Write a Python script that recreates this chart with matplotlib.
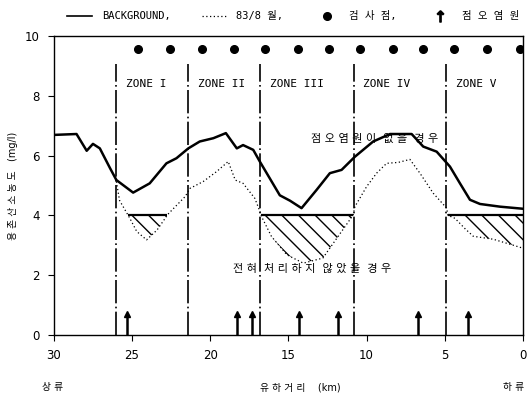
import matplotlib
matplotlib.use("Agg")

import numpy as np
import matplotlib.pyplot as plt
from matplotlib.lines import Line2D

plt.rcParams['font.family'] = ['DejaVu Sans', 'Noto Sans CJK KR']

# -----------------------------
# DATA
# -----------------------------
bg_km = [30, 28.55, 27.9, 27.5, 27.06, 26.4, 26.0, 24.93, 23.87, 22.8, 22.16,
         21.4, 20.67, 19.8, 19.0, 18.3, 17.9, 17.25, 16.83, 15.55, 14.9, 14.16,
         13.2, 12.35, 11.6, 10.75, 9.58, 8.5, 7.12, 6.38, 5.52, 4.67, 4.03,
         3.39, 2.75, 1.47, 0]
bg_do = [6.69, 6.72, 6.16, 6.39, 6.24, 5.57, 5.18, 4.76, 5.07, 5.74, 5.91,
         6.24, 6.47, 6.58, 6.75, 6.24, 6.35, 6.19, 5.80, 4.67, 4.49, 4.24,
         4.85, 5.41, 5.52, 5.96, 6.47, 6.72, 6.72, 6.30, 6.13, 5.63, 5.07,
         4.52, 4.38, 4.29, 4.22]

aug_km = [26.0, 25.8, 25.25, 25.14, 24.7, 24.07, 23.4, 22.7, 21.6, 21.3, 20.45,
          19.6, 18.85, 18.4, 17.9, 17.15, 16.8, 16.72, 16.08, 15.1, 14.05, 12.8,
          10.86, 10.75, 10.0, 9.36, 8.72, 7.98, 7.23, 6.59, 5.74, 4.88, 4.8,
          4.35, 3.7, 3.18, 1.9, 0.62, 0]
aug_do = [5.13, 4.5, 4.0, 3.9, 3.46, 3.18, 3.51, 4.04, 4.63, 4.9, 5.13,
          5.46, 5.80, 5.18, 5.07, 4.57, 4.1, 3.96, 3.29, 2.68, 2.40, 2.57,
          4.01, 4.29, 4.96, 5.41, 5.74, 5.77, 5.87, 5.41, 4.74, 4.24, 4.0,
          3.9, 3.55, 3.3, 3.2, 3.0, 2.9]

sample_km = [24.6, 22.6, 20.5, 18.5, 16.5, 14.4, 12.4, 10.4, 8.3, 6.4, 4.4, 2.3, 0.2]
source_km = [25.3, 18.3, 17.3, 14.3, 11.8, 6.7, 3.5]

zone_bounds = [26.0, 21.4, 16.8, 10.8, 4.9]
zone_names = ["ZONE I", "ZONE II", "ZONE III", "ZONE IV", "ZONE V"]

do_limit = 4.0

# -----------------------------
# FIGURE
# -----------------------------
fig = plt.figure(figsize=(5.28, 4.04), dpi=100)
ax = fig.add_axes([0.102, 0.171, 0.8885, 0.74])

ax.plot(bg_km, bg_do, color="black", lw=1.8)
ax.plot(aug_km, aug_do, color="black", lw=0.9, linestyle=(0, (1, 2)))

# hatched deficit below the 4 mg/l line
km = np.array(aug_km)
do = np.array(aug_do)
ax.fill_between(km, do, do_limit, where=do < do_limit, interpolate=True,
                facecolor="none", edgecolor="black", hatch="\\\\", lw=0)

# horizontal limit segments where the dotted curve drops below 4
diff = do - do_limit
cross = []
for i in range(len(diff) - 1):
    if diff[i] >= 0 > diff[i + 1] or diff[i] < 0 <= diff[i + 1]:
        t = diff[i] / (diff[i] - diff[i + 1])
        cross.append(km[i] + t * (km[i + 1] - km[i]))
if diff[-1] < 0:
    cross.append(km[-1])
for a, b in zip(cross[0::2], cross[1::2]):
    ax.hlines(do_limit, a, b, color="black", lw=1.6)

# zone boundaries
for zb, name in zip(zone_bounds, zone_names):
    ax.vlines(zb, 0, 9.05, color="black", lw=1.2, linestyle=(0, (14, 2, 1, 2)))
    ax.text(zb - 0.6, 8.4, name, family="DejaVu Sans Mono", fontsize=8,
            ha="left", va="center")

# sampling points
ax.plot(sample_km, [9.56] * len(sample_km), "o", color="black", markersize=5.5)

# point sources
ax.vlines(source_km, 0, 0.7, color="black", lw=1.8)
ax.plot(source_km, [0.7] * len(source_km), "^", color="black", markersize=4.5)

ax.text(9.5, 6.55, "점 오 염 원 이  없 을  경 우", fontsize=8, ha="center", va="center")
ax.text(13.5, 2.2, "전 혀  처 리 하 지  않 았 을  경 우", fontsize=8, ha="center", va="center")

ax.set_xlim(30, 0)
ax.set_ylim(0, 10)
ax.set_xticks([30, 25, 20, 15, 10, 5, 0])
ax.set_yticks([0, 2, 4, 6, 8, 10])
ax.tick_params(direction="out", length=4, labelsize=8.5, pad=6)
for s in ax.spines.values():
    s.set_linewidth(1.0)

ax.set_ylabel("용 존 산 소 농 도   (mg/l)", fontsize=7, labelpad=5)

fig.text(0.568, 0.042, "유 하 거 리    (km)", fontsize=7, ha="center", va="center")
fig.text(0.1, 0.042, "상 류", fontsize=7, ha="center", va="center")
fig.text(0.973, 0.042, "하 류", fontsize=7, ha="center", va="center")

# -----------------------------
# LEGEND
# -----------------------------
handles = [
    Line2D([], [], color="black", lw=1.2),
    Line2D([], [], color="black", lw=0.9, linestyle=(0, (1, 2))),
    Line2D([], [], marker="o", color="black", linestyle="none", markersize=5.5),
    Line2D([], [], marker=r"$\uparrow$", color="black", linestyle="none", markersize=8),
]
labels = ["BACKGROUND,", "83/8 월,", "검 사 점,", "점 오 염 원"]
leg = ax.legend(handles, labels, ncol=4, loc="lower left", frameon=False,
                bbox_to_anchor=(0.02, 1.035), handlelength=2.4,
                handletextpad=0.9, columnspacing=3.0, borderaxespad=0,
                prop={"family": ["DejaVu Sans Mono", "Noto Sans CJK KR"], "size": 7.5})

fig.savefig("out.png", dpi=100)
plt.close(fig)
